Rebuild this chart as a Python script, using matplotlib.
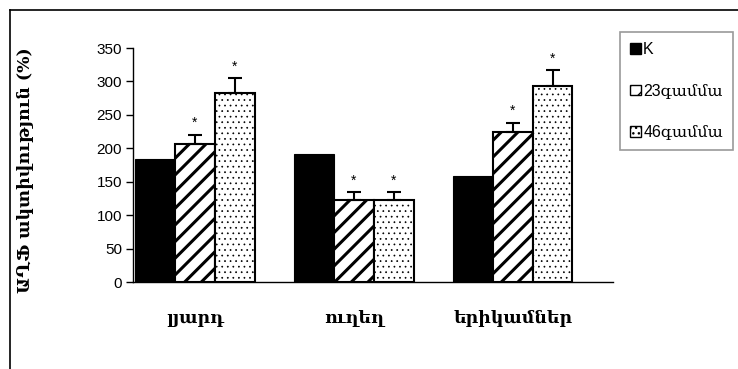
import matplotlib
matplotlib.use("Agg")
import matplotlib.pyplot as plt
import numpy as np
from matplotlib.lines import Line2D
from matplotlib.patches import Patch

# ATP activity by organ and dose
organs = ["լյարդ", "ուղեղ", "երիկամներ"]
groups = ["K", "23գամմա", "46գամմա"]
vals_k = [184, 191, 158]
vals_23 = [206, 122, 224]
vals_46 = [282, 122, 293]
err_23 = [14, 12, 14]
err_46 = [23, 12, 24]

serif = ["DejaVu Serif", "DejaVu Sans"]
sans = ["Liberation Sans", "DejaVu Serif"]

fig = plt.figure(figsize=(7.38, 3.69), dpi=100)
ax = fig.add_axes([133 / 738, 1 - 282 / 369, (613 - 133) / 738, 234 / 369])

x = np.arange(len(organs))
w = 0.25

ax.bar(x - w, vals_k, w, color="black", edgecolor="black", linewidth=0.8, label=groups[0])

with plt.rc_context({"hatch.linewidth": 2.2}):
    ax.bar(x, vals_23, w, color="white", edgecolor="black", hatch="//",
           linewidth=1.5, label=groups[1])
with plt.rc_context({"hatch.linewidth": 0.5}):
    ax.bar(x + w, vals_46, w, color="white", edgecolor="black", hatch="...",
           linewidth=1.5, label=groups[2])

# upper-only error bars and significance marks
for xs, v, e in [(x, vals_23, err_23), (x + w, vals_46, err_46)]:
    ax.errorbar(xs, v, yerr=[np.zeros(len(e)), e], fmt="none", ecolor="black",
                elinewidth=1.5, capsize=5, capthick=1.5)
    for xi, vi, ei in zip(xs, v, e):
        ax.text(xi, vi + ei + 7, "*", ha="center", va="bottom", fontsize=10,
                family=sans)

ax.set_xlim(-0.39, 2.63)
ax.set_ylim(0, 350)
ax.set_yticks(range(0, 351, 50))
ax.set_xticks(x)
ax.set_xticklabels(organs, family=serif, fontweight="bold", fontsize=12.5)
ax.tick_params(axis="x", length=0, pad=20)
ax.tick_params(axis="y", length=5, width=1, direction="out", labelsize=11,
               pad=3)
for lab in ax.get_yticklabels():
    lab.set_family(sans)
for s in ["top", "right"]:
    ax.spines[s].set_visible(False)
ax.spines["left"].set_linewidth(1)
ax.spines["bottom"].set_linewidth(1)

fig.text(25 / 738, 1 - 170 / 369, "ԱՂՖ ակտիվություն (%)", rotation=90,
         ha="center", va="center", family=serif, fontweight="bold", fontsize=12.5)

# legend box
handles = [Patch(facecolor="black", edgecolor="black"),
           Patch(facecolor="white", edgecolor="black", hatch="//"),
           Patch(facecolor="white", edgecolor="black", hatch="...")]
leg = fig.legend(handles, groups, loc="upper left",
                 bbox_to_anchor=(620 / 738, 1 - 32 / 369), borderaxespad=0,
                 frameon=True, fancybox=False, handlelength=0.65,
                 handleheight=0.65, handletextpad=0.15, labelspacing=1.65,
                 borderpad=0.65, prop={"family": sans, "size": 11.5})
leg.get_frame().set_edgecolor("#808080")
leg.get_frame().set_linewidth(1.2)

# outer frame
fig.add_artist(Line2D([10 / 738, 1], [1 - 10 / 369, 1 - 10 / 369],
                      transform=fig.transFigure, color="black", lw=1.2))
fig.add_artist(Line2D([10 / 738, 10 / 738], [0, 1 - 10 / 369],
                      transform=fig.transFigure, color="black", lw=1.2))

fig.savefig("out.png", dpi=100)
